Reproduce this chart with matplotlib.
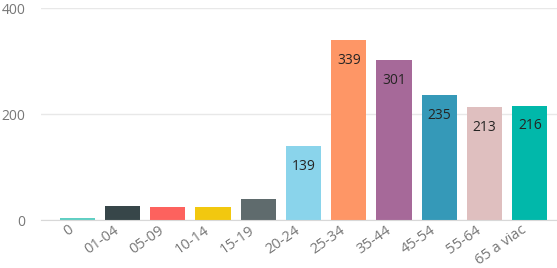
import matplotlib.pyplot as plt

plt.rcParams['font.family'] = ['Open Sans', 'DejaVu Sans']

groups = ["0", "01-04", "05-09", "10-14", "15-19", "20-24", "25-34",
          "35-44", "45-54", "55-64", "65 a viac"]
counts = [3, 26, 25, 25, 40, 139, 339, 301, 235, 213, 216]
colors = ["#5fcfc3", "#374649", "#fd625e", "#f2c80f", "#5f6b6d", "#8ad4eb",
          "#fe9666", "#a66999", "#3599b8", "#dfbfbf", "#01b8aa"]
labelled = ["20-24", "25-34", "35-44", "45-54", "55-64", "65 a viac"]

fig = plt.figure(figsize=(5.57, 2.68), dpi=100)
ax = fig.add_axes([41 / 557, 48 / 268, 516 / 557, 212 / 268])

x = list(range(len(groups)))
bars = ax.bar(x, counts, width=0.78, color=colors, zorder=2)

for b, g, v in zip(bars, groups, counts):
    if g in labelled:
        ax.annotate(str(v), (b.get_x() + b.get_width() / 2, v),
                    xytext=(0, -9), textcoords="offset points",
                    ha="center", va="top", fontsize=10, color="#252423")

ax.set_xlim(-0.8, 10.6)
ax.set_ylim(0, 400)
ax.set_yticks([0, 200, 400])
ax.set_xticks(x)
ax.set_xticklabels([])
# rotated category labels, placed by hand so they sit slightly left of the tick
for xi, g in zip(x, groups):
    ax.annotate(g, (xi, 0), xycoords=("data", "axes fraction"),
                xytext=(-3.4, -6.3), textcoords="offset points",
                rotation=35, rotation_mode="anchor", ha="right", va="center",
                fontsize=10.5, color="#777777", annotation_clip=False)
ax.tick_params(axis="both", length=0, colors="#777777")
ax.tick_params(axis="y", pad=11, labelsize=10)
ax.grid(axis="y", color="#e8e8e8", linewidth=1, zorder=0)
for s in ["top", "right", "left"]:
    ax.spines[s].set_visible(False)
ax.spines["bottom"].set_color("#d8d8d8")
ax.spines["bottom"].set_zorder(3)

fig.savefig("out.png", dpi=100)
